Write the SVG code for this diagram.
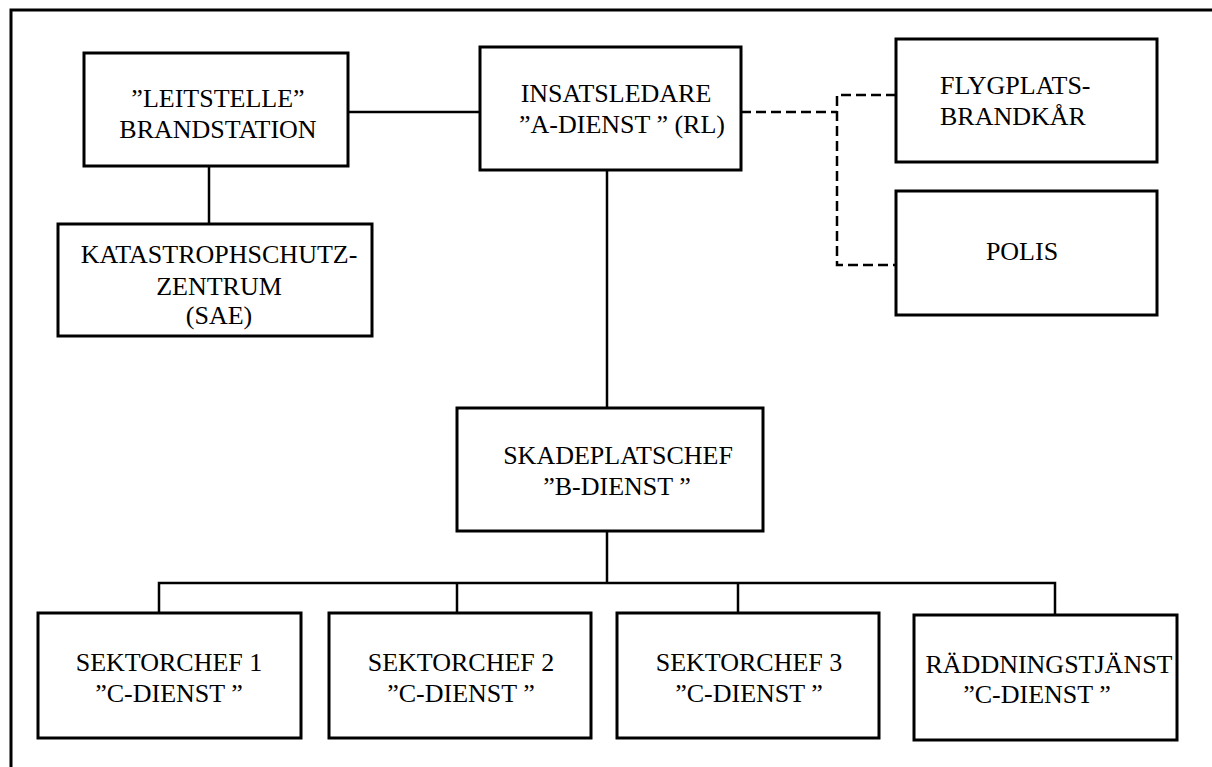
<svg xmlns="http://www.w3.org/2000/svg" width="1212" height="767" viewBox="0 0 1212 767">
<style>
.box{fill:#fff;stroke:#000;stroke-width:3}
.ln{fill:none;stroke:#000;stroke-width:2.5}
.dash{fill:none;stroke:#000;stroke-width:2.5;stroke-dasharray:10 5}
text{font-family:"Liberation Serif","Times New Roman",serif;font-size:26px;fill:#000;text-anchor:middle}
</style>
<rect width="1212" height="767" fill="#fff"/>
<path d="M11,767 V10 H1212" fill="none" stroke="#000" stroke-width="3"/>
<g id="connectors">
<path class="ln" d="M348,112 H480"/>
<path class="ln" d="M209,166 V224"/>
<path class="ln" d="M607,170 V408"/>
<path class="ln" d="M607,531 V583"/>
<path class="ln" d="M159,613 V583 H1055 V615"/>
<path class="ln" d="M457,583 V613"/>
<path class="ln" d="M738,583 V613"/>
<path class="dash" d="M741,112 H837"/>
<path class="dash" d="M896,95 H837 V265 H896"/>
</g>
<g id="leitstelle">
<rect class="box" x="84" y="53" width="264" height="113"/>
<text x="218" y="107">”LEITSTELLE”</text>
<text x="218" y="138">BRANDSTATION</text>
</g>
<g id="katastrophschutz">
<rect class="box" x="58" y="224" width="314" height="112"/>
<text x="219" y="263">KATASTROPHSCHUTZ-</text>
<text x="219" y="295">ZENTRUM</text>
<text x="219" y="324">(SAE)</text>
</g>
<g id="insatsledare">
<rect class="box" x="480" y="47" width="261" height="123"/>
<text x="616" y="102">INSATSLEDARE</text>
<text x="622" y="133">”A-DIENST ” (RL)</text>
</g>
<g id="flygplats">
<rect class="box" x="896" y="39" width="261" height="123"/>
<text x="940" y="94" style="text-anchor:start">FLYGPLATS-</text>
<text x="940" y="125" style="text-anchor:start">BRANDKÅR</text>
</g>
<g id="polis">
<rect class="box" x="896" y="191" width="261" height="124"/>
<text x="1022" y="260">POLIS</text>
</g>
<g id="skadeplatschef">
<rect class="box" x="457" y="408" width="306" height="123"/>
<text x="618" y="464">SKADEPLATSCHEF</text>
<text x="617" y="495">”B-DIENST ”</text>
</g>
<g id="sektorchef1">
<rect class="box" x="38" y="613" width="263" height="125"/>
<text x="169" y="671">SEKTORCHEF 1</text>
<text x="169" y="702">”C-DIENST ”</text>
</g>
<g id="sektorchef2">
<rect class="box" x="329" y="613" width="262" height="125"/>
<text x="461" y="671">SEKTORCHEF 2</text>
<text x="461" y="702">”C-DIENST ”</text>
</g>
<g id="sektorchef3">
<rect class="box" x="617" y="613" width="262" height="125"/>
<text x="749" y="671">SEKTORCHEF 3</text>
<text x="749" y="702">”C-DIENST ”</text>
</g>
<g id="raddningstjanst">
<rect class="box" x="914" y="615" width="263" height="125"/>
<text x="1049" y="673">RÄDDNINGSTJÄNST</text>
<text x="1037" y="703">”C-DIENST ”</text>
</g>
</svg>
